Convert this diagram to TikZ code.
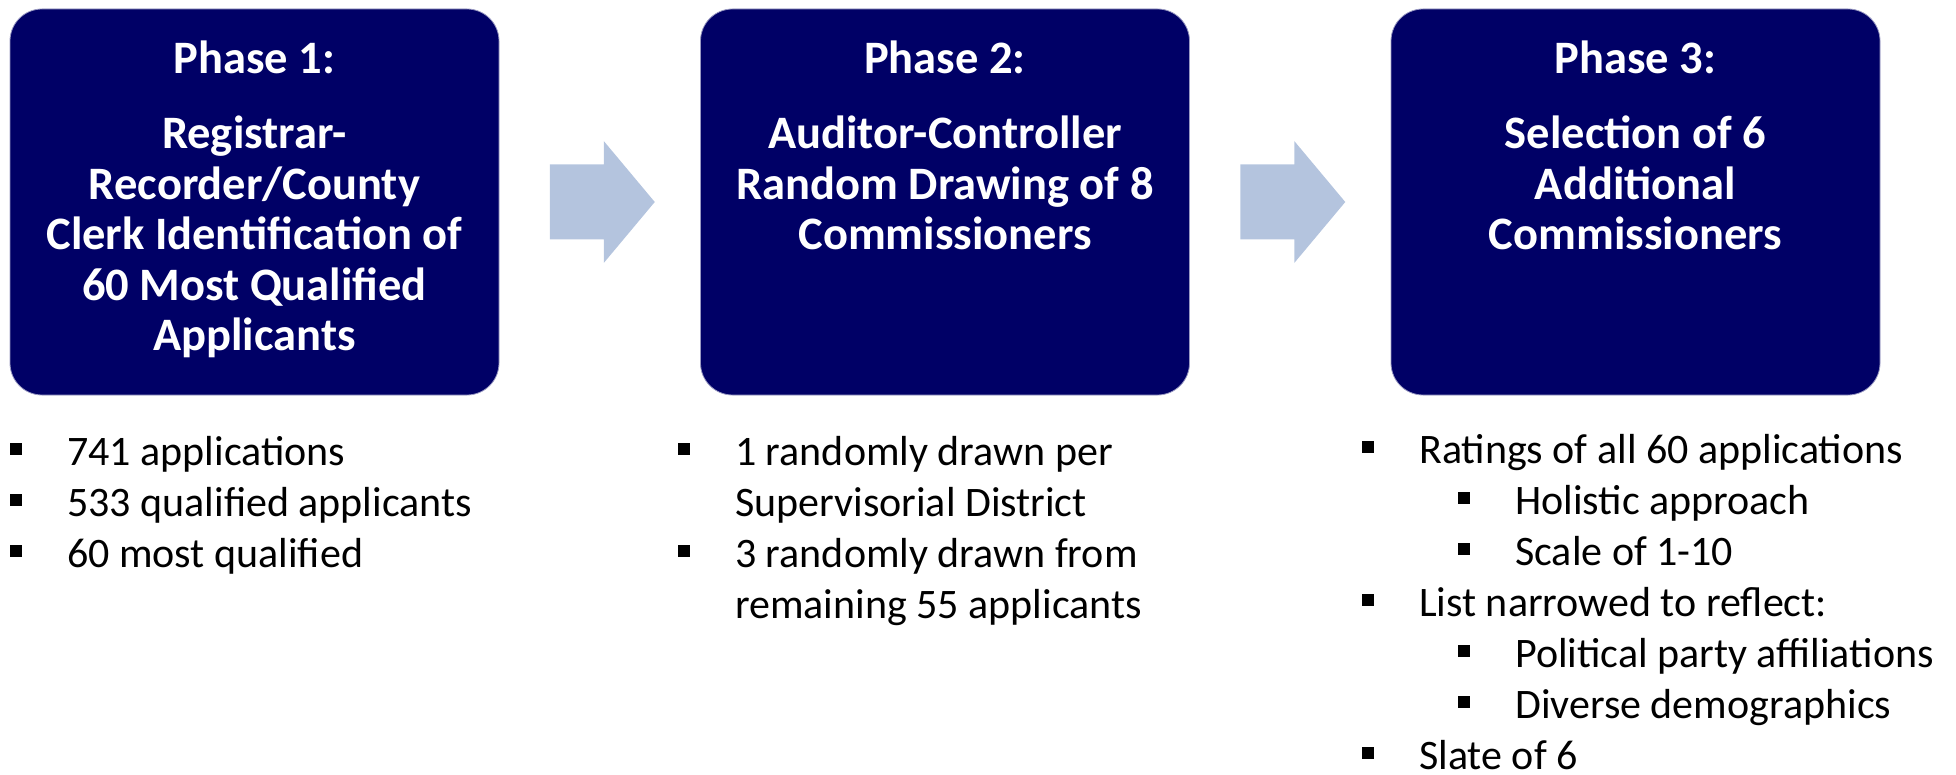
\documentclass[tikz,border=0pt]{standalone}
\usepackage{fontspec}
\setmainfont{Carlito}
\usepackage{tikz}
\usetikzlibrary{positioning,calc}

\definecolor{phasenavy}{RGB}{0,0,102}
\definecolor{arrowblue}{RGB}{180,196,222}
\newcommand{\sqbullet}{\rule[0.24em]{0.29em}{0.29em}}
\newcommand{\bitem}{\llap{\sqbullet\hspace{45pt}}}
\newcommand{\bsubitem}{\hspace*{96pt}\bitem}

\begin{document}
\begin{tikzpicture}[x=1pt,y=-1pt,
    phasebox/.style={draw=phasenavy!40, line width=0.8pt, fill=phasenavy,
        rounded corners=32pt, minimum width=489pt, minimum height=386pt, inner sep=0pt},
    phasetext/.style={text=white, font=\fontsize{46.5}{50.5}\selectfont\bfseries,
        align=center, anchor=base, inner sep=0pt},
    bullettext/.style={font=\fontsize{42}{51}\selectfont, align=left,
        anchor=base west, inner sep=0pt}]
        \useasboundingbox (0,0) rectangle (1956,775);

        % Phase boxes
        \node[phasebox] (box1) at (254.5,202) {};
        \node[phasebox] (box2) at (945,202) {};
        \node[phasebox] (box3) at (1635.5,202) {};

        % Titles (anchored at the baseline of the last line)
        \node[phasetext] (title1) at (254.5,351) {Phase 1:\\[25pt]Registrar-\\Recorder/County\\Clerk Identification of\\60 Most Qualified\\Applicants};
        \node[phasetext] (title2) at (945,250) {Phase 2:\\[25pt]Auditor-Controller\\Random Drawing of 8\\Commissioners};
        \node[phasetext] (title3) at (1635.5,250) {Phase 3:\\[25pt]Selection of 6\\Additional\\Commissioners};

        % Arrows between phases
        \coordinate (gap1) at ($(box1.east)!0.5!(box2.west)$);
        \coordinate (gap2) at ($(box2.east)!0.5!(box3.west)$);
        \fill[arrowblue] (gap1) ++(-50,-37.5) -- ++(54,0) -- ++(0,-23.5) -- ++(51,61) -- ++(-51,61) -- ++(0,-23.5) -- ++(-54,0) -- cycle;
        \fill[arrowblue] (gap2) ++(-50,-37.5) -- ++(54,0) -- ++(0,-23.5) -- ++(51,61) -- ++(-51,61) -- ++(0,-23.5) -- ++(-54,0) -- cycle;

        % Bullet lists (anchored at the baseline of the last line)
        \node[bullettext] (list1) at (67,567) {\bitem 741 applications\\\bitem 533 qualified applicants\\\bitem 60 most qualified};
        \node[bullettext] (list2) at (735,618) {\bitem 1 randomly drawn per\\Supervisorial District\\\bitem 3 randomly drawn from\\remaining 55 applicants};
        \node[bullettext] (list3) at (1419,769) {\bitem Ratings of all 60 applications\\\bsubitem Holistic approach\\\bsubitem Scale of 1-10\\\bitem List narrowed to reflect:\\\bsubitem Political party affiliations\\\bsubitem Diverse demographics\\\bitem Slate of 6};
    \end{tikzpicture}
\end{document}
